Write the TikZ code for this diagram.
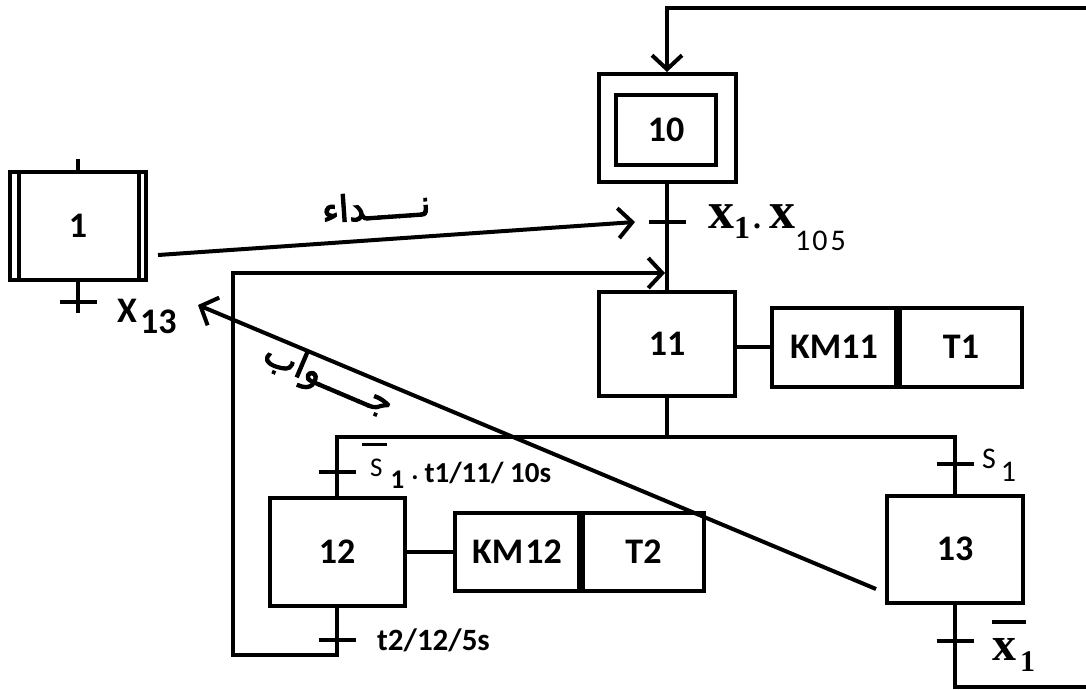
\documentclass[tikz,border=0pt]{standalone}
\usepackage{fontspec}
\setmainfont{Carlito}
\newfontfamily\serifb{Liberation Serif}
\newfontfamily\arabicfont[Script=Arabic,FakeBold=3]{DejaVu Sans}
\TeXXeTstate=1
\usetikzlibrary{arrows.meta}
\newcommand\fs[1]{\fontsize{#1}{#1}\selectfont}
\newcommand\obar[4]{\leavevmode\vbox{\hrule height 3.5pt\kern#1\hbox{\kern#2\relax#4\kern#3}}}
\begin{document}
\begin{tikzpicture}[x=1pt,y=-1pt,
  lnk/.style={line width=4pt},
  stepbox/.style={draw,line width=4pt,inner sep=0pt,font=\bfseries\fs{36}},
  barb/.style={-{Straight Barb[length=14pt,width=30pt]}},
  lab/.style={inner sep=0pt,anchor=base west}]
\useasboundingbox (0,0) rectangle (1086,689);
\fill[white] (0,0) rectangle (1086,689);

% steps
\node[stepbox,minimum width=137pt,minimum height=108pt] (s10) at (667,128) {};
\node[stepbox,minimum width=100pt,minimum height=70pt] (s10i) at (666,130) {10};
\node[stepbox,minimum width=136pt,minimum height=104pt] (s11) at (667,344) {11};
\node[stepbox,minimum width=135pt,minimum height=108pt] (s12) at (337,552) {12};
\node[stepbox,minimum width=136pt,minimum height=107pt] (s13) at (955,549) {13};
\node[stepbox,minimum width=136pt,minimum height=108pt] (s1) at (78,226) {1};
\draw[lnk] ([xshift=10.5pt]s1.north west) -- ([xshift=10.5pt]s1.south west);
\draw[lnk] ([xshift=-9pt]s1.north east) -- ([xshift=-9pt]s1.south east);

% action boxes
\node[stepbox,minimum width=124pt,minimum height=79pt] (a11a) at (834,347) {KM11};
\node[stepbox,minimum width=122pt,minimum height=79pt,anchor=west] (a11b) at (a11a.east) {T1};
\node[stepbox,minimum width=124pt,minimum height=78pt] (a12a) at (517,552) {KM\kern2pt12};
\node[stepbox,minimum width=121pt,minimum height=78pt,anchor=west] (a12b) at (a12a.east) {T2};
\draw[lnk] (a11a.west) -- (a11a.west -| s11.east);
\draw[lnk] (a12a.west) -- (a12a.west -| s12.east);

% coordinates
\coordinate (t10) at (667,222);
\coordinate (d) at (667,437);
\coordinate (t12a) at (337,472);
\coordinate (t12b) at (337,640);
\coordinate (t13a) at (955,464);
\coordinate (t13b) at (955,641);
\coordinate (t1) at (78,302);
\coordinate (rb) at (1100,687);
\coordinate (rt) at (1100,7.5);
\coordinate (lc1) at (233,655);
\coordinate (lin) at (665,273);
\coordinate (s1top) at (78,159);
\coordinate (s1bot) at (78,313);
\coordinate (callA) at (158,255);
\coordinate (callB) at (635,222);
\coordinate (ansA) at (876,589);
\coordinate (ansB) at (198,305);

% links
\draw[lnk] (s10.south) -- (s11.north);
\draw[lnk] (s11.south) -- (d);
\draw[lnk] (s12.north) |- (d) -| (s13.north);
\draw[lnk,barb] (s13.south) |- (rb) -- (rt) -| (s10.north);
\draw[lnk,barb] (s12.south) |- (lc1) |- (lin);
\draw[lnk] (s1.north) -- (s1top);
\draw[lnk] (s1.south) -- (s1bot);

% transitions
\foreach \t in {t10,t12a,t12b,t13a,t13b,t1}
  \draw[lnk] ([xshift=-18.5pt]\t) -- ([xshift=18.5pt]\t);

% call / answer
\draw[lnk,barb] (callA) -- (callB);
\draw[lnk,barb] (ansA) -- (ansB);
\node[rotate=4,inner sep=0pt] (nida) at (376,206) {\arabicfont\fs{36}\beginR نـــــداء\endR};
\node[rotate=-23,inner sep=0pt] (jawab) at (328,380) {\arabicfont\fs{36}\beginR جـــــواب\endR};

% labels
\node[lab] (l10) at (708,228) {\serifb\bfseries\fs{52}x\raisebox{-10pt}{\fs{32}1}\kern3pt{\fs{32}.}\kern8pt x\raisebox{-22pt}{\rmfamily\mdseries\fs{30}1\kern2pt0\kern3pt5}};
\node[lab] (l1) at (117,322) {\bfseries\fs{36}X\raisebox{-11pt}{\kern3pt 13}};
\node[lab] (l12a) at (362,476) {\fs{27}\obar{12pt}{8pt}{4pt}{S}\raisebox{-12pt}{\kern4pt\bfseries 1}\kern7pt\raisebox{-3pt}{\bfseries .}\kern6pt\raisebox{-6pt}{\bfseries\fs{29}t1/11/ 10s}};
\node[lab] (l12b) at (377,650) {\bfseries\fs{31}t2/12/5s};
\node[lab] (l13a) at (982,468) {\fs{30}S\raisebox{-13pt}{\kern5pt 1}};
\node[lab] (l13b) at (992,660) {\serifb\bfseries\fs{48}\obar{14pt}{0pt}{10pt}{x}\kern-6pt\raisebox{-11pt}{\fs{30}1}};
\end{tikzpicture}
\end{document}
